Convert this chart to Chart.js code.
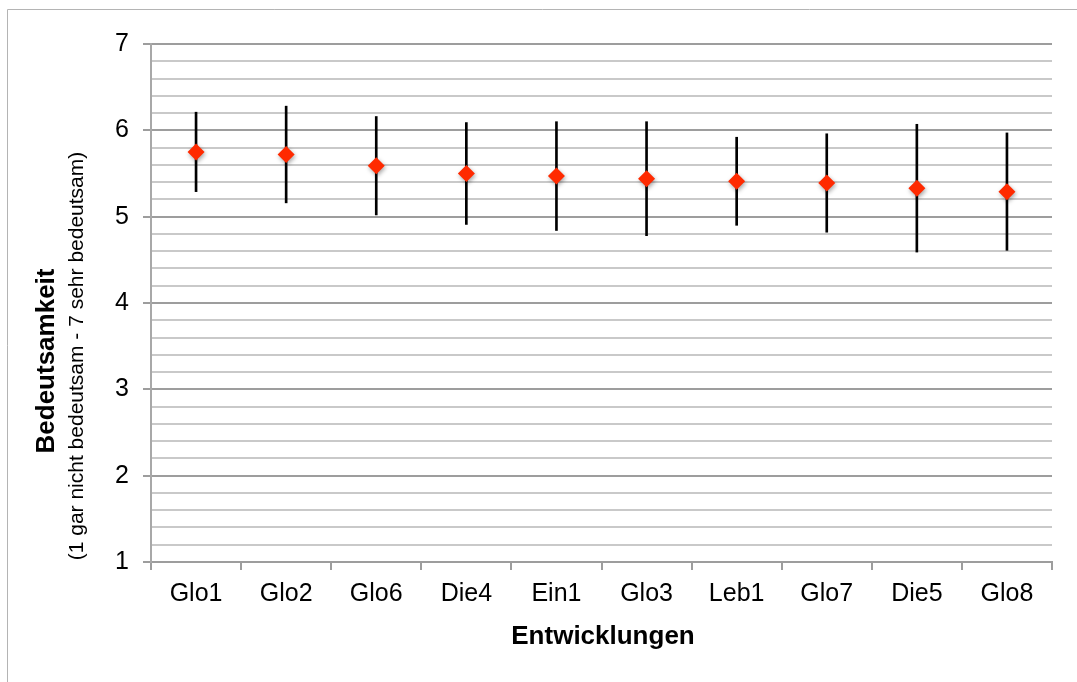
<!DOCTYPE html>
<html>
<head>
<meta charset="utf-8">
<title>Bedeutsamkeit der Entwicklungen</title>
<script src="https://cdn.jsdelivr.net/npm/chart.js@4.4.1/dist/chart.umd.min.js"></script>
<style>
  html, body { margin: 0; padding: 0; background: #fff; }
  canvas { display: block; }
</style>
</head>
<body>
<canvas id="meanChart" width="1077" height="682"></canvas>
<script>
'use strict';

// Entwicklungen, sorted by mean rating
let labels = ['Glo1', 'Glo2', 'Glo6', 'Die4', 'Ein1', 'Glo3', 'Leb1', 'Glo7', 'Die5', 'Glo8'];
let means = [5.75, 5.72, 5.59, 5.50, 5.47, 5.44, 5.41, 5.39, 5.33, 5.29];
let errors = [0.46, 0.56, 0.57, 0.59, 0.63, 0.66, 0.51, 0.57, 0.74, 0.68];
let yTicks = [1, 2, 3, 4, 5, 6, 7];

// error bars as floating bars (mean - err .. mean + err)
let errorRanges = means.map((m, i) => [m - errors[i], m + errors[i]]);

Chart.defaults.font.family = '"Liberation Sans", Arial, sans-serif';
Chart.defaults.color = '#000';

const majorGrid = '#9d9d9d';
const minorGrid = '#c9c9c9';

function isMajor(v) {
  return yTicks.includes(Math.round(v * 1000) / 1000);
}

// light frame around the whole chart
const framePlugin = {
  id: 'frame',
  beforeDraw(chart) {
    const ctx = chart.ctx;
    ctx.save();
    ctx.strokeStyle = '#b4b4b4';
    ctx.lineWidth = 1;
    ctx.beginPath();
    ctx.moveTo(7.5, chart.height);
    ctx.lineTo(7.5, 9.5);
    ctx.lineTo(chart.width, 9.5);
    ctx.stroke();
    ctx.restore();
  }
};

// axis titles
const titlePlugin = {
  id: 'axisTitles',
  afterDraw(chart) {
    const ctx = chart.ctx;
    ctx.save();
    ctx.fillStyle = '#000';
    ctx.textAlign = 'center';
    ctx.textBaseline = 'middle';

    ctx.font = 'bold 26px "Liberation Sans", Arial, sans-serif';
    ctx.fillText('Entwicklungen', 603, 637);

    ctx.translate(47, 361);
    ctx.rotate(-Math.PI / 2);
    ctx.fillText('Bedeutsamkeit', 0, 0);
    ctx.restore();

    ctx.save();
    ctx.fillStyle = '#000';
    ctx.textAlign = 'center';
    ctx.textBaseline = 'middle';
    ctx.font = '21px "Liberation Sans", Arial, sans-serif';
    ctx.translate(77, 356);
    ctx.rotate(-Math.PI / 2);
    ctx.fillText('(1 gar nicht bedeutsam - 7 sehr bedeutsam)', 0, 0);
    ctx.restore();
  }
};

// soft drop shadow under the diamonds
const shadowPlugin = {
  id: 'markerShadow',
  beforeDatasetDraw(chart, args) {
    if (args.index !== 1) return;
    const ctx = chart.ctx;
    ctx.save();
    ctx.shadowColor = 'rgba(0, 0, 0, 0.35)';
    ctx.shadowBlur = 4;
    ctx.shadowOffsetX = 1;
    ctx.shadowOffsetY = 2;
  },
  afterDatasetDraw(chart, args) {
    if (args.index !== 1) return;
    chart.ctx.restore();
  }
};

const ctx = document.getElementById('meanChart');
new Chart(ctx, {
  data: {
    labels: labels,
    datasets: [{
      type: 'bar',
      label: 'Streuung',
      data: errorRanges,
      backgroundColor: '#000',
      barThickness: 2,
      order: 2
    },
    {
      type: 'line',
      label: 'Mittelwert',
      data: means,
      showLine: false,
      pointStyle: 'rectRot',
      pointRadius: 8.5,
      pointBackgroundColor: '#ff2a00',
      pointBorderWidth: 0,
      order: 1
    }]
  },
  options: {
    responsive: false,
    animation: false,
    layout: {
      padding: { left: 0, right: 25, top: 44, bottom: 0 }
    },
    plugins: {
      legend: { display: false },
      tooltip: { enabled: false }
    },
    scales: {
      x: {
        offset: true,
        afterFit: (scale) => { scale.height = 120; },
        grid: {
          offset: true,
          drawOnChartArea: false,
          color: majorGrid,
          lineWidth: 2,
          tickLength: 8
        },
        border: { color: majorGrid, width: 2 },
        ticks: {
          font: { size: 25 },
          padding: 9
        }
      },
      y: {
        min: yTicks[0],
        max: yTicks[yTicks.length - 1],
        afterFit: (scale) => { scale.width = 151; },
        grid: {
          color: (c) => isMajor(c.tick.value) ? majorGrid : minorGrid,
          tickColor: (c) => isMajor(c.tick.value) ? majorGrid : 'rgba(0,0,0,0)',
          lineWidth: 2,
          tickLength: 8
        },
        border: { color: '#a8a8a8', width: 2 },
        ticks: {
          stepSize: 0.2,
          autoSkip: false,
          padding: 14,
          font: { size: 25 },
          callback: (v) => isMajor(v) ? String(Math.round(v)) : ''
        }
      }
    }
  },
  plugins: [framePlugin, titlePlugin, shadowPlugin]
});
</script>
</body>
</html>
